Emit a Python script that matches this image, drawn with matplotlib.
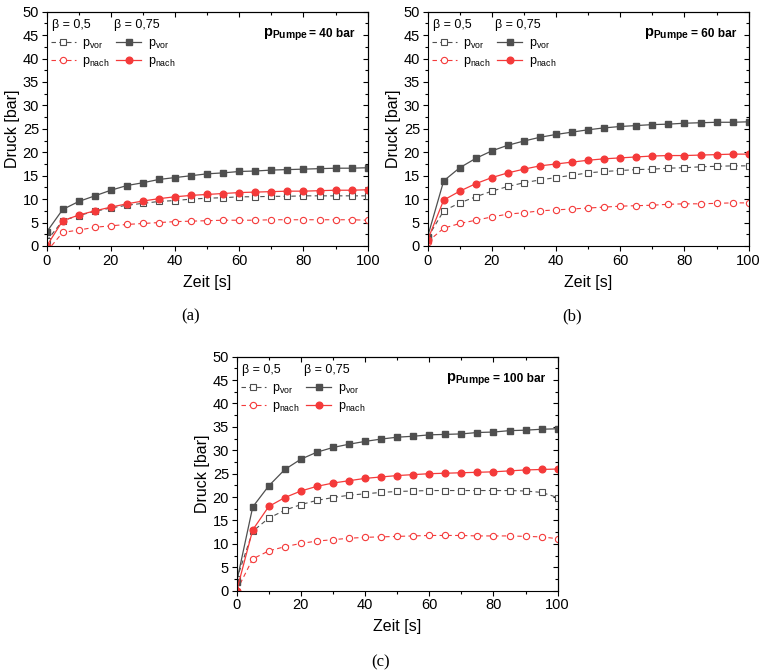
import numpy as np
import matplotlib
matplotlib.use('Agg')
import matplotlib.pyplot as plt
from matplotlib.ticker import MultipleLocator

plt.rcParams['font.family'] = ['Liberation Sans', 'DejaVu Sans']
plt.rcParams['mathtext.fontset'] = 'custom'
plt.rcParams['mathtext.rm'] = 'Liberation Sans'
plt.rcParams['mathtext.it'] = 'Liberation Sans:italic'
plt.rcParams['mathtext.bf'] = 'Liberation Sans:bold'

# ---------------- data ----------------
zeit = np.arange(0, 101, 5)

# panel (a): p_Pumpe = 40 bar
a_vor_05 = [1.1, 5.4, 6.5, 7.4, 8.1, 8.7, 9.1, 9.5, 9.7, 10.0, 10.2,
            10.3, 10.5, 10.5, 10.6, 10.6, 10.7, 10.7, 10.7, 10.7, 10.7]
a_nach_05 = [-1.2, 2.9, 3.4, 4.0, 4.3, 4.6, 4.8, 5.0, 5.2, 5.3, 5.4,
             5.5, 5.5, 5.5, 5.6, 5.6, 5.6, 5.6, 5.6, 5.6, 5.5]
a_vor_075 = [3.0, 7.8, 9.5, 10.7, 11.9, 12.9, 13.5, 14.2, 14.6, 15.0, 15.4,
             15.6, 15.9, 16.0, 16.2, 16.3, 16.4, 16.5, 16.6, 16.6, 16.7]
a_nach_075 = [0.0, 5.4, 6.6, 7.5, 8.3, 9.0, 9.6, 10.1, 10.5, 10.8, 11.0,
              11.2, 11.4, 11.5, 11.6, 11.7, 11.7, 11.8, 11.9, 11.9, 12.0]

# panel (b): p_Pumpe = 60 bar
b_vor_05 = [1.8, 7.5, 9.2, 10.5, 11.7, 12.7, 13.5, 14.1, 14.6, 15.1, 15.6,
            15.9, 16.1, 16.3, 16.4, 16.6, 16.7, 16.9, 17.0, 17.1, 17.1]
b_nach_05 = [0.9, 3.8, 4.8, 5.5, 6.2, 6.8, 7.1, 7.5, 7.7, 7.9, 8.1,
             8.3, 8.5, 8.6, 8.7, 8.9, 9.0, 9.0, 9.1, 9.2, 9.2]
b_vor_075 = [2.0, 13.9, 16.7, 18.7, 20.3, 21.5, 22.4, 23.2, 23.8, 24.3, 24.8,
             25.2, 25.5, 25.7, 25.9, 26.0, 26.2, 26.3, 26.4, 26.4, 26.5]
b_nach_075 = [1.3, 9.8, 11.7, 13.3, 14.6, 15.6, 16.4, 17.1, 17.5, 17.9, 18.3,
              18.6, 18.8, 19.0, 19.2, 19.3, 19.3, 19.4, 19.5, 19.6, 19.6]

# panel (c): p_Pumpe = 100 bar
c_vor_05 = [2.4, 12.7, 15.5, 17.2, 18.4, 19.3, 19.9, 20.4, 20.7, 21.0, 21.2,
            21.3, 21.4, 21.4, 21.4, 21.4, 21.4, 21.4, 21.3, 21.0, 19.9]
c_nach_05 = [0.0, 6.8, 8.5, 9.4, 10.1, 10.6, 10.9, 11.2, 11.4, 11.5, 11.6,
             11.7, 11.8, 11.8, 11.8, 11.7, 11.7, 11.7, 11.6, 11.5, 11.1]
c_vor_075 = [1.9, 17.9, 22.4, 25.9, 28.1, 29.6, 30.6, 31.3, 31.9, 32.4, 32.8,
             33.0, 33.3, 33.4, 33.5, 33.8, 33.9, 34.2, 34.3, 34.5, 34.6]
c_nach_075 = [0.0, 13.0, 18.0, 19.9, 21.3, 22.3, 23.0, 23.5, 24.0, 24.3, 24.6,
              24.8, 25.0, 25.1, 25.2, 25.3, 25.4, 25.6, 25.8, 25.9, 26.0]

pumpen = ['40', '60', '100']
captions = ['(a)', '(b)', '(c)']

GRAU = '#4f4f4f'
ROT = '#f43a3a'

fig = plt.figure(figsize=(7.63, 6.71), dpi=100)

positions = [[0.0612, 0.6334, 0.4207, 0.3492],
             [0.5605, 0.6334, 0.4207, 0.3492],
             [0.3102, 0.1197, 0.4207, 0.3487]]
# caption centres in pixels (x, y from top)
caption_px = [(191, 316), (572, 316), (381, 662)]

panels = [(a_vor_05, a_nach_05, a_vor_075, a_nach_075),
          (b_vor_05, b_nach_05, b_vor_075, b_nach_075),
          (c_vor_05, c_nach_05, c_vor_075, c_nach_075)]

pumpe_texts = []

for i, (vor05, nach05, vor075, nach075) in enumerate(panels):
    ax = fig.add_axes(positions[i])

    l1, = ax.plot(zeit, vor05, color=GRAU, lw=0.8, ls=(0, (4, 3)), marker='s',
                  ms=4, mfc='white', mec=GRAU, mew=0.8)
    l2, = ax.plot(zeit, nach05, color=ROT, lw=0.8, ls=(0, (4, 3)), marker='o',
                  ms=4.5, mfc='white', mec=ROT, mew=0.8)
    l3, = ax.plot(zeit, vor075, color=GRAU, lw=0.9, marker='s', ms=4.2,
                  mfc=GRAU, mec=GRAU)
    l4, = ax.plot(zeit, nach075, color=ROT, lw=0.9, marker='o', ms=4.8,
                  mfc=ROT, mec=ROT)

    ax.set_xlim(0, 100)
    ax.set_ylim(0, 50)
    ax.xaxis.set_major_locator(MultipleLocator(20))
    ax.xaxis.set_minor_locator(MultipleLocator(10))
    ax.yaxis.set_major_locator(MultipleLocator(5))
    ax.yaxis.set_minor_locator(MultipleLocator(2.5))
    ax.tick_params(which='both', direction='out', top=False, right=False,
                   width=0.8, labelsize=10.5, pad=2)
    ax.tick_params(which='major', length=3.5)
    ax.tick_params(which='minor', length=2)
    for s in ax.spines.values():
        s.set_linewidth(0.8)

    # inward ticks on top and right (mirror)
    sec_x = ax.secondary_xaxis('top')
    sec_x.xaxis.set_major_locator(MultipleLocator(20))
    sec_x.xaxis.set_minor_locator(MultipleLocator(10))
    sec_x.tick_params(which='both', direction='in', labeltop=False, width=0.8)
    sec_x.tick_params(which='major', length=3.5)
    sec_x.tick_params(which='minor', length=2)
    sec_y = ax.secondary_yaxis('right')
    sec_y.yaxis.set_major_locator(MultipleLocator(5))
    sec_y.yaxis.set_minor_locator(MultipleLocator(2.5))
    sec_y.tick_params(which='both', direction='in', labelright=False, width=0.8)
    sec_y.tick_params(which='major', length=3.5)
    sec_y.tick_params(which='minor', length=2)

    ax.set_xlabel('Zeit [s]', fontsize=11.5, labelpad=5)
    ax.set_ylabel('Druck [bar]', fontsize=11.5, labelpad=2)

    # legend with column headers
    ax.text(0.017, 0.942, 'β = 0,5', transform=ax.transAxes, fontsize=9,
            va='center', ha='left')
    ax.text(0.21, 0.942, 'β = 0,75', transform=ax.transAxes, fontsize=9,
            va='center', ha='left')
    ax.legend([l1, l2, l3, l4],
              [r'p$_{\mathrm{vor}}$', r'p$_{\mathrm{nach}}$',
               r'p$_{\mathrm{vor}}$', r'p$_{\mathrm{nach}}$'],
              ncol=2, loc='upper left', bbox_to_anchor=(0.012, 0.89),
              frameon=False, fontsize=9, handlelength=2.0,
              handletextpad=0.55, columnspacing=0.5, labelspacing=0.3,
              borderpad=0, borderaxespad=0)

    t_rest = ax.text(0.96, 0.893, '= %s bar' % pumpen[i],
                     transform=ax.transAxes, fontsize=8.6, fontweight='bold',
                     ha='right', va='baseline')
    pumpe_texts.append((ax, t_rest))

    fig.text(caption_px[i][0] / 763, 1 - caption_px[i][1] / 671, captions[i],
             family='Liberation Serif', fontsize=12, ha='center',
             va='center')

# p_Pumpe symbol placed just left of "= .. bar", same baseline
fig.canvas.draw()
renderer = fig.canvas.get_renderer()
for ax, t_rest in pumpe_texts:
    bb = t_rest.get_window_extent(renderer)
    x_left = ax.transAxes.inverted().transform((bb.x0 - 2, 0))[0]
    ax.text(x_left, 0.893, r'$\mathbf{p_{Pumpe}}$', transform=ax.transAxes,
            fontsize=10.5, ha='right', va='baseline')

fig.savefig('out.png', dpi=100)
